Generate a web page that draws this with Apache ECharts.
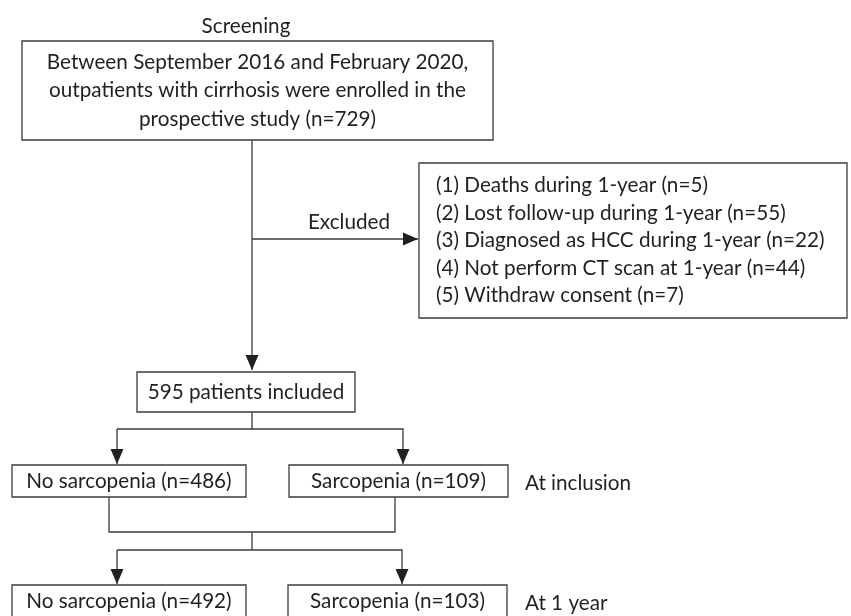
<!DOCTYPE html>
<html>
<head>
<meta charset="utf-8">
<script src="https://cdn.jsdelivr.net/npm/echarts@6/dist/echarts.min.js"></script>
<style>
  html, body { margin: 0; padding: 0; background: #fff; }
  #chart { width: 851px; height: 616px; }
</style>
</head>
<body>
<div id="chart"></div>
<script>
// flow counts
const screenedCount = 729;
const exclusionReasons = [
  "Deaths during 1-year",
  "Lost follow-up during 1-year",
  "Diagnosed as HCC during 1-year",
  "Not perform CT scan at 1-year",
  "Withdraw consent",
];
const exclusionCounts = [5, 55, 22, 44, 7];
const includedCount = 595;
const groupNames = ["No sarcopenia", "Sarcopenia"];
const inclusionCounts = [486, 109];
const oneYearCounts = [492, 103];
const stageLabels = ["At inclusion", "At 1 year"];

const FONT = '20.7px Lato, "Noto Sans", sans-serif';
const INK = "#231f20";
const LINE = "#3c3c3c";

// box layout in diagram units (same as pixels, axes map 0..851 x 0..616)
const boxes = [
  { x0: 22, y0: 41, x1: 493, y1: 140, align: "center",
    lines: ["Between September 2016 and February 2020,",
            "outpatients with cirrhosis were enrolled in the",
            "prospective study (n=" + screenedCount + ")"] },
  { x0: 419, y0: 163, x1: 847, y1: 318, align: "left",
    lines: exclusionReasons.map((r, i) => "(" + (i + 1) + ") " + r + " (n=" + exclusionCounts[i] + ")") },
  { x0: 137, y0: 372, x1: 355, y1: 412, align: "center",
    lines: [includedCount + " patients included"] },
  { x0: 12, y0: 465, x1: 246, y1: 497, align: "center",
    lines: [groupNames[0] + " (n=" + inclusionCounts[0] + ")"] },
  { x0: 289, y0: 465, x1: 508, y1: 497, align: "center",
    lines: [groupNames[1] + " (n=" + inclusionCounts[1] + ")"] },
  { x0: 12, y0: 585, x1: 246, y1: 625, align: "center",
    lines: [groupNames[0] + " (n=" + oneYearCounts[0] + ")"] },
  { x0: 288, y0: 585, x1: 507, y1: 625, align: "center",
    lines: [groupNames[1] + " (n=" + oneYearCounts[1] + ")"] },
];

// free labels
const labels = [
  { x: 246, y: 26, text: "Screening", align: "center" },
  { x: 349, y: 222, text: "Excluded", align: "center" },
  { x: 525, y: 483, text: stageLabels[0], align: "left" },
  { x: 525, y: 603, text: stageLabels[1], align: "left" },
];

// connectors: points, arrow at the end if arrow true
const connectors = [
  { pts: [[252, 140], [252, 370]], arrow: true },
  { pts: [[252, 239], [418, 239]], arrow: true },
  { pts: [[252, 412], [252, 429]], arrow: false },
  { pts: [[117, 429], [117, 464]], arrow: true },
  { pts: [[117, 429], [403, 429], [403, 464]], arrow: true },
  { pts: [[109, 497], [109, 532], [395, 532], [395, 497]], arrow: false },
  { pts: [[252, 532], [252, 550]], arrow: false },
  { pts: [[117, 550], [117, 584]], arrow: true },
  { pts: [[117, 550], [402, 550], [402, 584]], arrow: true },
];

const chart = echarts.init(document.getElementById("chart"), null, { renderer: "canvas" });

function renderBox(params, api) {
  const b = boxes[params.dataIndex];
  const p0 = api.coord([b.x0, b.y0]);
  const p1 = api.coord([b.x1, b.y1]);
  const children = [{
    type: "rect",
    shape: { x: p0[0], y: p0[1], width: p1[0] - p0[0], height: p1[1] - p0[1] },
    style: { fill: "#fff", stroke: LINE, lineWidth: 1.3 },
  }];
  const n = b.lines.length;
  const lh = n === 5 ? 27.5 : 28.5;
  // bottom boxes are cut by the canvas edge, centre text on a 32px box
  const boxH = params.dataIndex >= 5 ? 32 : (p1[1] - p0[1]);
  const cy = p0[1] + boxH / 2;
  b.lines.forEach((t, i) => {
    children.push({
      type: "text",
      style: {
        text: t,
        x: b.align === "left" ? p0[0] + 17 : (p0[0] + p1[0]) / 2,
        y: cy + (i - (n - 1) / 2) * lh,
        align: b.align,
        verticalAlign: "middle",
        font: FONT,
        fill: INK,
      },
    });
  });
  return { type: "group", children };
}

function renderLabel(params, api) {
  const l = labels[params.dataIndex];
  const p = api.coord([l.x, l.y]);
  return {
    type: "text",
    style: { text: l.text, x: p[0], y: p[1], align: l.align, verticalAlign: "middle", font: FONT, fill: INK },
  };
}

function renderConnector(params, api) {
  const c = connectors[params.dataIndex];
  const pts = c.pts.map((q) => api.coord(q));
  const children = [{
    type: "polyline",
    shape: { points: pts },
    style: { stroke: LINE, lineWidth: 1.3, fill: null },
  }];
  if (c.arrow) {
    const a = pts[pts.length - 2], e = pts[pts.length - 1];
    const dx = e[0] - a[0], dy = e[1] - a[1];
    const len = Math.hypot(dx, dy);
    const ux = dx / len, uy = dy / len;
    const L = 15, W = 6.5;
    const bx = e[0] - ux * L, by = e[1] - uy * L;
    children.push({
      type: "polygon",
      shape: { points: [e, [bx - uy * W, by + ux * W], [bx + uy * W, by - ux * W]] },
      style: { fill: "#231f20" },
    });
  }
  return { type: "group", children };
}

chart.setOption({
  animation: false,
  grid: { left: 0, right: 0, top: 0, bottom: 0 },
  xAxis: { type: "value", min: 0, max: 851, show: false },
  yAxis: { type: "value", min: 0, max: 616, inverse: true, show: false },
  series: [
    { type: "custom", renderItem: renderConnector, data: connectors.map((c, i) => [i]), silent: true, clip: false },
    { type: "custom", renderItem: renderBox, data: boxes.map((b, i) => [i]), silent: true, clip: false },
    { type: "custom", renderItem: renderLabel, data: labels.map((l, i) => [i]), silent: true, clip: false },
  ],
});
</script>
</body>
</html>
